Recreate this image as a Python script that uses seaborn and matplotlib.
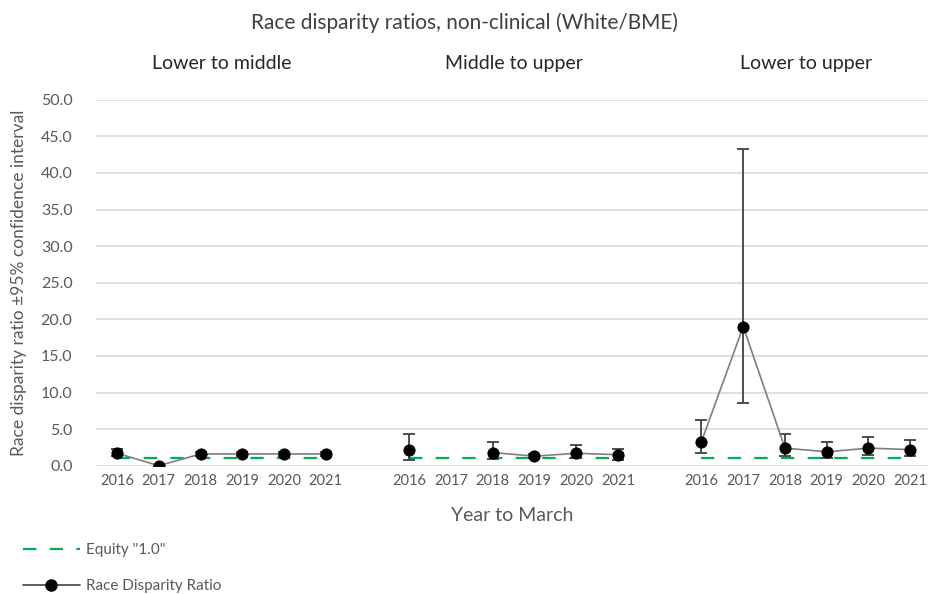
import numpy as np
import pandas as pd
import matplotlib
matplotlib.use("Agg")
import matplotlib.pyplot as plt
import seaborn as sns
from matplotlib.lines import Line2D

# Data
years = ["2016", "2017", "2018", "2019", "2020", "2021"]
groups = ["Lower to middle", "Middle to upper", "Lower to upper"]

ratio_lm = [1.7, 0.0, 1.6, 1.6, 1.6, 1.6]
low_lm = [1.3, 0.0, 1.3, 1.3, 1.3, 1.3]
high_lm = [2.3, 0.0, 1.9, 1.9, 1.9, 1.9]

ratio_mu = [2.1, np.nan, 1.8, 1.3, 1.7, 1.5]
low_mu = [0.8, np.nan, 0.9, 1.0, 1.0, 0.8]
high_mu = [4.3, np.nan, 3.2, 1.6, 2.8, 2.3]

ratio_lu = [3.3, 19.0, 2.4, 1.9, 2.4, 2.2]
low_lu = [1.7, 8.6, 1.3, 1.1, 1.4, 1.3]
high_lu = [6.2, 43.3, 4.3, 3.2, 3.9, 3.5]

equity = 1.0

# Build long table: one empty category slot between groups
rows = []
for g, (r, lo, hi) in enumerate([(ratio_lm, low_lm, high_lm),
                                 (ratio_mu, low_mu, high_mu),
                                 (ratio_lu, low_lu, high_lu)]):
    seg = 0
    for i, y in enumerate(years):
        if np.isnan(r[i]):
            seg += 1
            continue
        rows.append({"pos": g * 7 + i, "year": y, "group": groups[g],
                     "ratio": r[i], "low": lo[i], "high": hi[i],
                     "segment": f"{g}-{seg}"})
df = pd.DataFrame(rows)

sns.set_theme(style="white")
plt.rcParams["font.family"] = ["Lato", "DejaVu Sans"]

fig = plt.figure(figsize=(9.29, 5.94), dpi=100)
ax = fig.add_axes([0.1035, 0.216, 0.8965, 0.616])

grid_c = "#d9d9d9"
txt_c = "#595959"
for v in np.arange(0, 55, 5):
    ax.axhline(v, color=grid_c, lw=1.2, zorder=0)

# Equity lines per group
for g in range(3):
    eq = pd.DataFrame({"pos": [g * 7 + i for i in range(6)], "v": [equity] * 6})
    sns.lineplot(data=eq, x="pos", y="v", ax=ax, color="#00b050", lw=1.6,
                 dashes=False, linestyle=(0, (6, 6)), zorder=2)

# Error bars
ax.errorbar(df["pos"], df["ratio"],
            yerr=[df["ratio"] - df["low"], df["high"] - df["ratio"]],
            fmt="none", ecolor="#404040", elinewidth=1.3, capsize=4.5,
            capthick=1.3, zorder=3)

# Ratio line
sns.lineplot(data=df, x="pos", y="ratio", units="segment", estimator=None,
             ax=ax, color="#7f7f7f", lw=1.2, marker="o", markersize=8,
             markerfacecolor="black", markeredgecolor="black", zorder=4)

ax.set_xlim(-0.5, 19.45)
ax.set_ylim(0, 50)
ax.set_yticks(np.arange(0, 55, 5))
ax.set_yticklabels([f"{v:.1f}" for v in np.arange(0, 55, 5)], color=txt_c, fontsize=11.5)
pos = [g * 7 + i for g in range(3) for i in range(6)]
ax.set_xticks(pos)
ax.set_xticklabels(years * 3, color=txt_c, fontsize=10.5)
ax.tick_params(axis="both", length=0, pad=6)
ax.tick_params(axis="y", pad=17)
for s in ax.spines.values():
    s.set_visible(False)
ax.set_xlabel("Year to March", color=txt_c, fontsize=14, labelpad=14)
ax.set_ylabel("Race disparity ratio \u00b195% confidence interval", color=txt_c,
              fontsize=12.5)
ax.yaxis.set_label_coords(-0.083, 0.5)

for g, name in enumerate(groups):
    ax.text(g * 7 + 2.5, 55, name, ha="center", va="center", color="#262626",
            fontsize=14)

fig.text(0.5, 0.962, "Race disparity ratios, non-clinical (White/BME)",
         ha="center", va="center", color="#404040", fontsize=15)

handles = [Line2D([], [], color="#00b050", lw=1.6, linestyle=(0, (6, 6))),
           Line2D([], [], color="#404040", lw=1.2, marker="o", markersize=8,
                  markerfacecolor="black", markeredgecolor="black")]
fig.legend(handles, ['Equity "1.0"', "Race Disparity Ratio"], loc="lower left",
           bbox_to_anchor=(0.01, -0.022), frameon=False, fontsize=11,
           labelcolor=txt_c, handlelength=3.7, handletextpad=0.45,
           labelspacing=1.45)

fig.savefig("out.png", dpi=100)
